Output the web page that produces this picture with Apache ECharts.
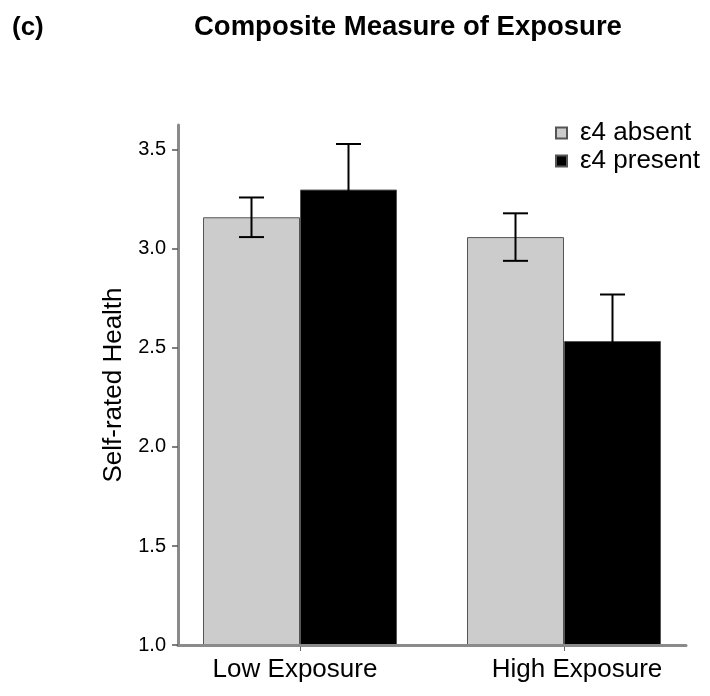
<!DOCTYPE html>
<html>
<head>
<meta charset="utf-8">
<script src="https://cdn.jsdelivr.net/npm/echarts@6/dist/echarts.min.js"></script>
<style>
  html, body { margin: 0; padding: 0; background: #ffffff; }
  #chart { width: 710px; height: 696px; }
</style>
</head>
<body>
<div id="chart"></div>
<script>
// Self-rated health by exposure group and APOE ε4 status
const categories = ['Low Exposure', 'High Exposure'];
const seriesNames = ['ε4 absent', 'ε4 present'];
const absentMeans = [3.16, 3.06];
const presentMeans = [3.30, 2.535];
const absentLow = [3.06, 2.94];
const absentHigh = [3.26, 3.18];
const presentLow = [3.07, 2.30];
const presentHigh = [3.53, 2.77];
const yTicks = [1.0, 1.5, 2.0, 2.5, 3.0, 3.5];
const yMin = 1.0;
const yMax = 3.626;

const FONT = '"Liberation Sans", Arial, sans-serif';

// Error bars drawn with the custom series, positioned through the bar axes
function errorBarSeries(name, low, high, barIndex) {
  const data = categories.map((c, i) => [i, low[i], high[i]]);
  return {
    type: 'custom',
    name: name + ' error',
    xAxisIndex: 0,
    yAxisIndex: 0,
    z: 5,
    silent: true,
    data: data,
    renderItem: function (params, api) {
      const idx = api.value(0);
      const barW = 97;
      const center = api.coord([idx, 0])[0] + (barIndex === 0 ? -barW / 2 : barW / 2);
      const yLo = api.coord([idx, api.value(1)])[1];
      const yHi = api.coord([idx, api.value(2)])[1];
      const cap = 12.5;
      const style = { stroke: '#000', lineWidth: 2, fill: null };
      return {
        type: 'group',
        children: [
          { type: 'line', shape: { x1: center, y1: yLo, x2: center, y2: yHi }, style: style },
          { type: 'line', shape: { x1: center - cap, y1: yHi, x2: center + cap, y2: yHi }, style: style },
          { type: 'line', shape: { x1: center - cap, y1: yLo, x2: center + cap, y2: yLo }, style: style }
        ]
      };
    }
  };
}

const chart = echarts.init(document.getElementById('chart'), null, { renderer: 'canvas' });

const option = {
  backgroundColor: '#ffffff',
  animation: false,
  textStyle: { fontFamily: FONT },
  title: [
    {
      text: '(c)',
      left: 7,
      top: 10,
      textStyle: { fontFamily: FONT, fontWeight: 'bold', fontSize: 26, color: '#000' }
    },
    {
      text: 'Composite Measure of Exposure',
      left: 189,
      top: 8,
      textStyle: { fontFamily: FONT, fontWeight: 'bold', fontSize: 27.5, color: '#000' }
    }
  ],
  legend: {
    orient: 'vertical',
    left: 550,
    top: 115,
    itemWidth: 11,
    itemHeight: 11,
    itemGap: 2,
    icon: 'rect',
    selectedMode: false,
    data: seriesNames,
    textStyle: { fontFamily: FONT, fontSize: 26, color: '#000', padding: [0, 0, 0, 8] }
  },
  grid: [
    { left: 168, right: 14, top: 125, bottom: 51, containLabel: false },
    { left: 178, right: 24, top: 125, bottom: 51, containLabel: false }
  ],
  xAxis: [
    {
      type: 'category',
      gridIndex: 0,
      data: categories,
      boundaryGap: true,
      axisLine: { show: false },
      axisTick: { show: true, alignWithLabel: true, length: 6, lineStyle: { color: '#666', width: 1 } },
      axisLabel: {
        margin: 12,
        formatter: function (v, i) { return i === 0 ? '{lo|' + v + '}' : '{hi|' + v + '}'; },
        rich: {
          lo: { fontFamily: FONT, fontSize: 26, color: '#000', padding: [0, 10, 0, 0] },
          hi: { fontFamily: FONT, fontSize: 26, color: '#000', padding: [0, 0, 0, 26] }
        }
      },
      splitLine: { show: false }
    },
    {
      type: 'value',
      gridIndex: 1,
      min: 0,
      max: 1,
      z: 6,
      axisLine: { show: true, onZero: false, lineStyle: { color: '#8a8a8a', width: 3 } },
      axisTick: { show: false },
      axisLabel: { show: false },
      splitLine: { show: false }
    }
  ],
  yAxis: [
    {
      type: 'value',
      gridIndex: 0,
      min: yMin,
      max: yMax,
      show: false,
      splitLine: { show: false }
    },
    {
      type: 'value',
      gridIndex: 1,
      min: yMin,
      max: yMax,
      z: 6,
      name: 'Self-rated Health',
      nameLocation: 'middle',
      nameRotate: 90,
      nameGap: 43,
      nameTextStyle: { fontFamily: FONT, fontSize: 26, color: '#000' },
      axisLine: { show: true, onZero: false, lineStyle: { color: '#8a8a8a', width: 3 } },
      axisTick: { show: true, length: 6, customValues: yTicks, lineStyle: { color: '#555', width: 1.5 } },
      axisLabel: {
        fontFamily: FONT, fontSize: 20, color: '#000', margin: 12,
        customValues: yTicks,
        formatter: function (v) { return v.toFixed(1); }
      },
      splitLine: { show: false }
    }
  ],
  series: [
    {
      name: seriesNames[0],
      type: 'bar',
      xAxisIndex: 0,
      yAxisIndex: 0,
      data: absentMeans,
      barWidth: 97,
      barGap: '0%',
      itemStyle: { color: '#cccccc', borderColor: '#555', borderWidth: 1 }
    },
    {
      name: seriesNames[1],
      type: 'bar',
      xAxisIndex: 0,
      yAxisIndex: 0,
      data: presentMeans,
      barWidth: 97,
      barGap: '0%',
      itemStyle: { color: '#000000', borderColor: '#555', borderWidth: 1 }
    },
    errorBarSeries(seriesNames[0], absentLow, absentHigh, 0),
    errorBarSeries(seriesNames[1], presentLow, presentHigh, 1)
  ]
};

chart.setOption(option);
</script>
</body>
</html>
